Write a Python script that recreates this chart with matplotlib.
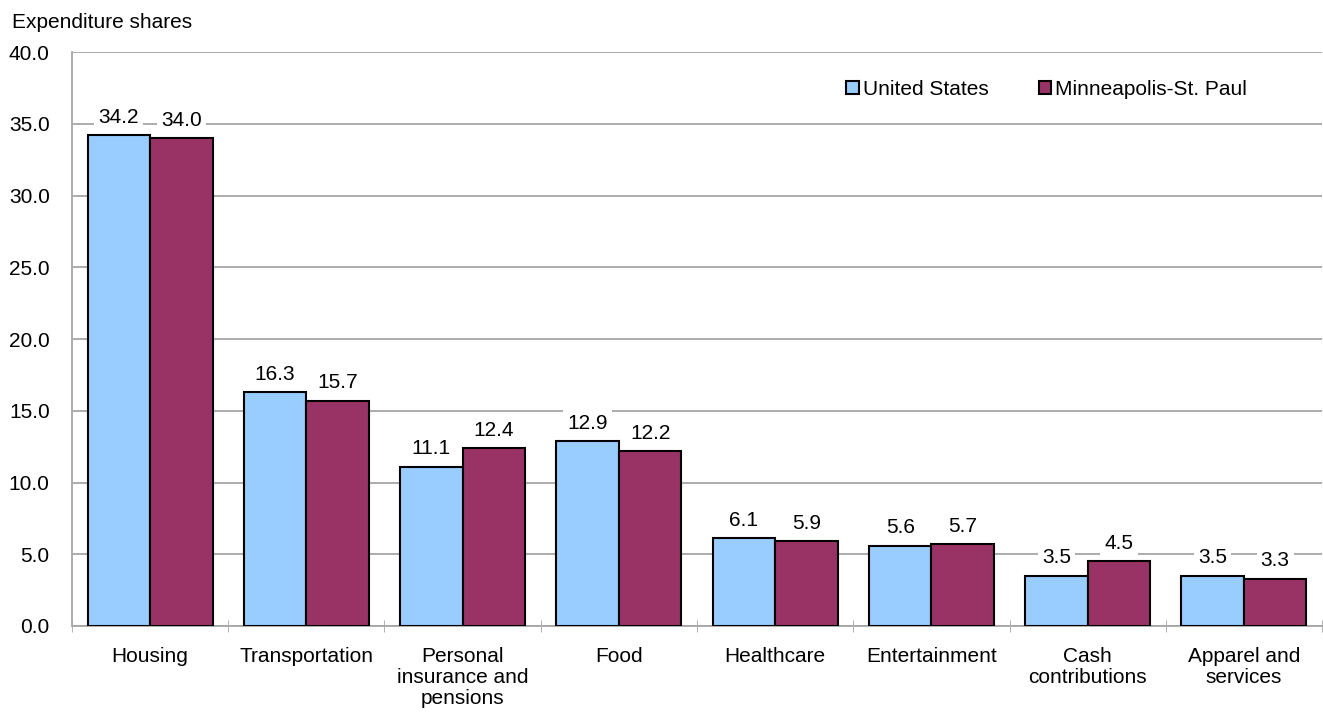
import matplotlib

matplotlib.use("Agg")
import matplotlib.pyplot as plt
import numpy as np

# ── chart data ───────────────────────────────────────────────
CATEGORIES = ["Housing", "Transportation", "Personal\ninsurance and\npensions",
              "Food", "Healthcare", "Entertainment", "Cash\ncontributions",
              "Apparel and\nservices"]
US = [34.2, 16.3, 11.1, 12.9, 6.1, 5.6, 3.5, 3.5]
MSP = [34.0, 15.7, 12.4, 12.2, 5.9, 5.7, 4.5, 3.3]
SERIES = ["United States", "Minneapolis-St. Paul"]
YTICKS = [0, 5, 10, 15, 20, 25, 30, 35, 40]

BLUE = "#99ccff"
MAROON = "#993366"
GRID = "#a6a6a6"
FS = 15

plt.rcParams.update({"font.family": ["Liberation Sans", "DejaVu Sans"], "font.size": FS})

fig = plt.figure(figsize=(13.23, 7.15), dpi=100)
ax = fig.add_axes([0.0544, 0.1245, 0.9449, 0.8025])

x = np.arange(len(CATEGORIES))
w = 0.4
b1 = ax.bar(x - w / 2, US, w, color=BLUE, edgecolor="black", linewidth=1.5,
            label=SERIES[0], zorder=3)
b2 = ax.bar(x + w / 2, MSP, w, color=MAROON, edgecolor="black", linewidth=1.5,
            label=SERIES[1], zorder=3)

for bars, vals in ((b1, US), (b2, MSP)):
    for bar, v in zip(bars, vals):
        ax.annotate(f"{v:.1f}", (bar.get_x() + bar.get_width() / 2, v),
                    textcoords="offset points", xytext=(0, 6), ha="center",
                    va="bottom", fontsize=FS, zorder=4,
                    bbox=dict(facecolor="white", edgecolor="none", pad=3))

ax.set_xlim(-0.5, len(CATEGORIES) - 0.5)
ax.set_ylim(0, 40)
ax.set_yticks(YTICKS)
ax.set_yticklabels([f"{t:.1f}" for t in YTICKS])
ax.set_xticks(x)
ax.set_xticklabels(CATEGORIES, linespacing=1.15)
ax.set_xticks(np.arange(len(CATEGORIES) + 1) - 0.5, minor=True)
ax.tick_params(axis="x", which="major", length=0, pad=15)
ax.tick_params(axis="x", which="minor", length=8, direction="inout", color=GRID)
ax.tick_params(axis="y", length=0, pad=16)
ax.grid(axis="y", color=GRID, linewidth=1.3, zorder=0)
for s in ("top", "right"):
    ax.spines[s].set_visible(False)
for s in ("left", "bottom"):
    ax.spines[s].set_color(GRID)
    ax.spines[s].set_linewidth(1.3)

fig.text(0.009, 0.955, "Expenditure shares", fontsize=FS, ha="left", va="bottom")

ax.legend(loc="upper right", bbox_to_anchor=(0.955, 0.985), frameon=False,
          ncol=2, handlelength=0.6, handleheight=0.6, handletextpad=0.2,
          columnspacing=2.4, fontsize=FS)

fig.savefig("out.png")
